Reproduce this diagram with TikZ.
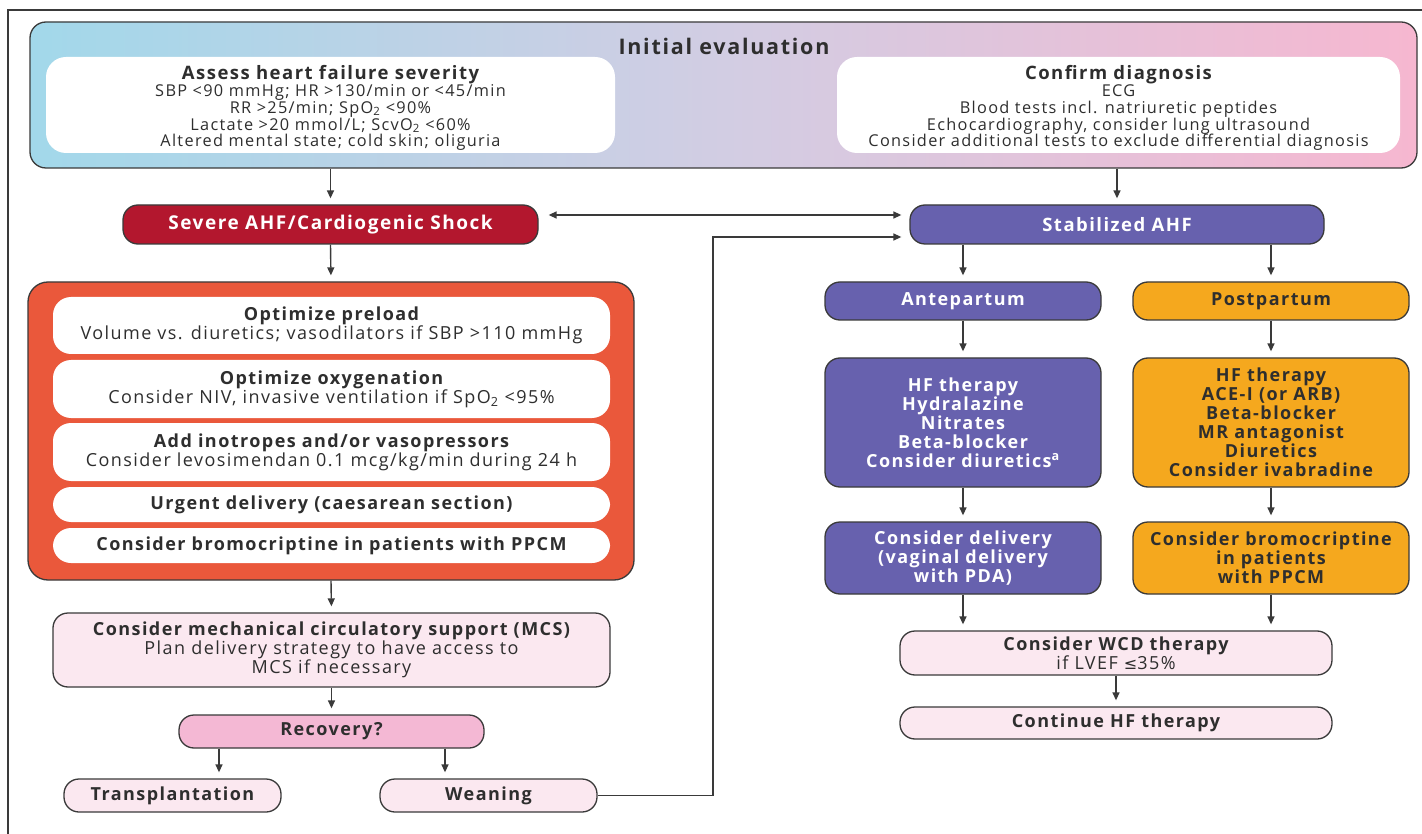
\documentclass[tikz,border=0pt]{standalone}
\usepackage{fontspec}
\setmainfont{Open Sans}[LetterSpace=8]
\newfontfamily\symf{DejaVu Sans}
\usetikzlibrary{arrows.meta}

\definecolor{edge}{HTML}{3A3A3A}
\definecolor{txt}{HTML}{2E2E2E}
\definecolor{sev}{HTML}{B3172E}
\definecolor{purp}{HTML}{6761AE}
\definecolor{orng}{HTML}{F5A81E}
\definecolor{redbox}{HTML}{EA583B}
\definecolor{lpink}{HTML}{FBE8F0}
\definecolor{rpink}{HTML}{F4B8D4}
\definecolor{gradL}{HTML}{A2D8EA}
\definecolor{gradM}{HTML}{D2CDE3}
\definecolor{gradR}{HTML}{F6B7D0}

\tikzset{
  base/.style={align=center, inner sep=0pt, text=txt,
    font=\fontsize{18}{19}\selectfont},
  box/.style={base, draw=edge, line width=1.3pt, rounded corners=15pt},
  inbox/.style={base, fill=white, rounded corners=18pt},
  pinkbox/.style={box, fill=lpink},
  purpbox/.style={box, fill=purp, text=white,
    font=\bfseries\fontsize{18}{19}\selectfont},
  orngbox/.style={box, fill=orng, text=txt,
    font=\bfseries\fontsize{18}{19}\selectfont},
  topbody/.style={inbox, rounded corners=20pt,
    font=\fontsize{16.3}{16.8}\selectfont},
  arr/.style={draw=edge, line width=1.4pt,
    -{Triangle[length=8pt,width=7pt]}, shorten >=6pt},
  dblarr/.style={draw=edge, line width=1.4pt,
    {Triangle[length=8pt,width=7pt]}-{Triangle[length=8pt,width=7pt]},
    shorten >=8pt, shorten <=10pt},
}

\newcommand{\hd}[1]{{\bfseries #1}}
\newcommand{\tophd}[1]{{\bfseries\fontsize{18.5}{20}\selectfont\rule{0pt}{20pt}#1}}

\begin{document}
\begin{tikzpicture}[x=1pt,y=-1pt]
\useasboundingbox (0,0) rectangle (1422,834);
\fill[white] (0,0) rectangle (1422,834);

% page frame (top and left rules)
\draw[edge, line width=1.5pt] (8,834) -- (8,10) -- (1422,10);

% ---------- initial evaluation ----------
\node[draw=edge, line width=1.3pt, rounded corners=16pt,
      minimum width=1387, minimum height=146,
      left color=gradL, right color=gradR, middle color=gradM]
      (top) at (723.5,95) {};
\node[base, font=\bfseries\fontsize{21.5}{24}\selectfont] (title) at (724,46) {Initial evaluation};

\node[topbody, minimum width=569, minimum height=96] (assess) at (330.5,105)
  {\tophd{Assess heart failure severity}\\[0.5pt]
   SBP <90 mmHg; HR >130/min or <45/min\\
   RR >25/min; SpO\textsubscript{2} <90\%\\
   Lactate >20 mmol/L; ScvO\textsubscript{2} <60\%\\
   Altered mental state; cold skin; oliguria};

\node[topbody, minimum width=563, minimum height=96] (confirm) at (1118.5,105)
  {\tophd{Confirm diagnosis}\\[0.5pt]
   ECG\\
   Blood tests incl. natriuretic peptides\\
   Echocardiography, consider lung ultrasound\\
   Consider additional tests to exclude differential diagnosis};

% ---------- triage ----------
\node[box, fill=sev, text=white, minimum width=415, minimum height=39,
      font=\bfseries\fontsize{19}{19}\selectfont] (severe) at (330.5,224.5)
  {Severe AHF/Cardiogenic Shock};
\node[purpbox, minimum width=414, minimum height=39,
      font=\bfseries\fontsize{18.5}{19}\selectfont] (stab) at (1117,224.5)
  {Stabilized AHF};

% ---------- severe branch ----------
\node[box, fill=redbox, rounded corners=20pt, minimum width=606, minimum height=298]
  (red) at (331,431) {};
\node[inbox, minimum width=557, minimum height=57] (p1) at (331.5,325.5)
  {\hd{Optimize preload}\\ Volume vs. diuretics; vasodilators if SBP >110 mmHg};
\node[inbox, minimum width=557, minimum height=58] (p2) at (331.5,389)
  {\hd{Optimize oxygenation}\\ Consider NIV, invasive ventilation if SpO\textsubscript{2} <95\%};
\node[inbox, minimum width=557, minimum height=58] (p3) at (331.5,452)
  {\hd{Add inotropes and/or vasopressors}\\ Consider levosimendan 0.1 mcg/kg/min during 24 h};
\node[inbox, minimum width=557, minimum height=35] (p4) at (331.5,504.5)
  {\hd{Urgent delivery (caesarean section)}};
\node[inbox, minimum width=557, minimum height=35] (p5) at (331.5,545.5)
  {\hd{Consider bromocriptine in patients with PPCM}};

\node[pinkbox, minimum width=557, minimum height=74] (mcs) at (331.5,650)
  {\hd{Consider mechanical circulatory support (MCS)}\\
   Plan delivery strategy to have access to\\ MCS if necessary};
\node[box, fill=rpink, minimum width=305, minimum height=33] (recov) at (331.5,731.5)
  {\hd{Recovery?}};
\node[pinkbox, minimum width=217, minimum height=33] (transp) at (172.5,795.5)
  {\hd{Transplantation}};
\node[pinkbox, minimum width=217, minimum height=33] (wean) at (488.5,795.5)
  {\hd{Weaning}};

% ---------- stabilized branch ----------
\node[purpbox, minimum width=276, minimum height=38] (ante) at (963,301) {Antepartum};
\node[orngbox, minimum width=276, minimum height=38] (post) at (1271,301) {Postpartum};

\node[purpbox, minimum width=276, minimum height=129] (antehf) at (963,422.5)
  {HF therapy\\ Hydralazine\\ Nitrates\\ Beta-blocker\\ Consider diuretics\textsuperscript{a}};
\node[orngbox, minimum width=276, minimum height=129] (posthf) at (1271,422.5)
  {HF therapy\\ ACE-I (or ARB)\\ Beta-blocker\\ MR antagonist\\ Diuretics\\ Consider ivabradine};

\node[purpbox, minimum width=276, minimum height=72] (antedel) at (963,558)
  {Consider delivery\\ (vaginal delivery\\ with PDA)};
\node[orngbox, minimum width=276, minimum height=72] (postbro) at (1271,558)
  {Consider bromocriptine\\ in patients\\ with PPCM};

\node[pinkbox, minimum width=432, minimum height=44] (wcd) at (1116,653)
  {\hd{Consider WCD therapy}\\ if LVEF {\symf\fontsize{16}{19}\selectfont ≤}35\%};
\node[pinkbox, minimum width=432, minimum height=32] (cont) at (1116,723)
  {\hd{Continue HF therapy}};

% ---------- connectors ----------
\draw[arr] (severe.north |- top.south) -- (severe.north);
\draw[arr] (stab.north |- top.south) -- (stab.north);
\draw[dblarr] ([yshift=9.5pt]severe.east) -- ([yshift=9.5pt]stab.west);

\draw[arr] (severe.south) -- (red.north);
\draw[arr] (red.south) -- (mcs.north);
\draw[arr] (mcs.south) -- (recov.north);
\draw[arr] ([xshift=-112.5pt]recov.south) -- ([xshift=-112.5pt]recov.south |- transp.north);
\draw[arr] ([xshift=113.5pt]recov.south) -- ([xshift=113.5pt]recov.south |- wean.north);

\coordinate (wbend) at (713,795.5);
\draw[arr, shorten >=8pt] (wean.east) -- (wbend) |- ([yshift=-12.5pt]stab.west);

\draw[arr] (ante.north |- stab.south) -- (ante.north);
\draw[arr] (post.north |- stab.south) -- (post.north);
\draw[arr] (ante.south) -- (antehf.north);
\draw[arr] (post.south) -- (posthf.north);
\draw[arr] (antehf.south) -- (antedel.north);
\draw[arr] (posthf.south) -- (postbro.north);
\draw[arr] (antedel.south) -- (antedel.south |- wcd.north);
\draw[arr] (postbro.south) -- (postbro.south |- wcd.north);
\draw[arr] (wcd.south) -- (cont.north);
\end{tikzpicture}
\end{document}
